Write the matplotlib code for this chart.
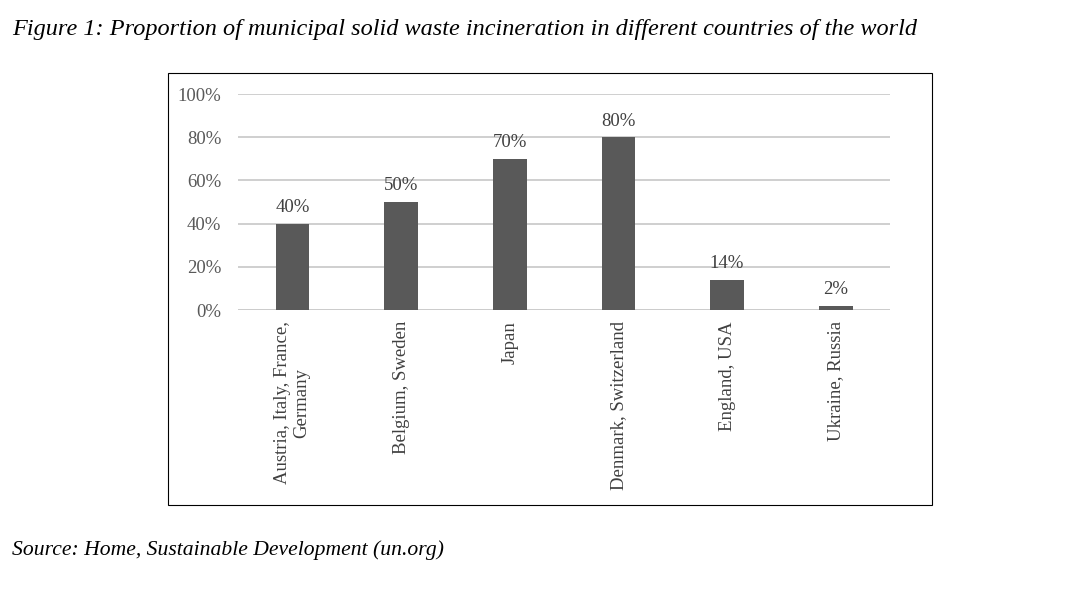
import numpy as np
import matplotlib.pyplot as plt
from matplotlib.patches import Rectangle

# Dados
categories = ["Austria, Italy, France,\nGermany", "Belgium, Sweden", "Japan",
              "Denmark, Switzerland", "England, USA", "Ukraine, Russia"]
shares = [0.40, 0.50, 0.70, 0.80, 0.14, 0.02]
yticks = [0.0, 0.2, 0.4, 0.6, 0.8, 1.0]
ytick_labels = ["0%", "20%", "40%", "60%", "80%", "100%"]

plt.rcParams['font.family'] = ['Liberation Serif', 'DejaVu Serif']

fig = plt.figure(figsize=(10.79, 5.94), dpi=100)
ax = fig.add_axes([0.2206, 0.4781, 0.6043, 0.3636])

x = np.arange(len(categories))
ax.bar(x, shares, width=0.31, color='#595959', zorder=3)
for xi, v in zip(x, shares):
    ax.text(xi, v + 0.035, f"{v*100:.0f}%", ha='center', va='bottom',
            fontsize=13.5, color='#404040')

ax.set_xlim(-0.5, len(categories) - 0.5)
ax.set_ylim(0, 1)
ax.set_yticks(yticks)
ax.set_yticklabels(ytick_labels, fontsize=13.5, color='#595959')
ax.set_xticks(x)
ax.set_xticklabels(categories, rotation=90, fontsize=13.5, color='#404040',
                   va='top', ha='center', multialignment='center')
ax.tick_params(length=0)
ax.tick_params(axis='y', pad=12)
ax.tick_params(axis='x', pad=8)
ax.grid(axis='y', color='#cccccc', linewidth=1.3, zorder=0)
for s in ax.spines.values():
    s.set_visible(False)
ax.axhline(0, color='#cccccc', linewidth=1.3, zorder=1)

# Moldura
fig.patches.append(Rectangle((168 / 1079, 1 - 505 / 594), (932 - 168) / 1079,
                             (505 - 73) / 594, transform=fig.transFigure,
                             fill=False, edgecolor='black', linewidth=0.8))

fig.text(12 / 1079, 1 - 30 / 594,
         "Figure 1: Proportion of municipal solid waste incineration in different countries of the world",
         fontsize=17.5, style='italic', va='center', ha='left')
fig.text(12 / 1079, 1 - 550 / 594, "Source: Home, Sustainable Development (un.org)",
         fontsize=15.6, style='italic', va='center', ha='left')

fig.savefig('out.png', dpi=100)
